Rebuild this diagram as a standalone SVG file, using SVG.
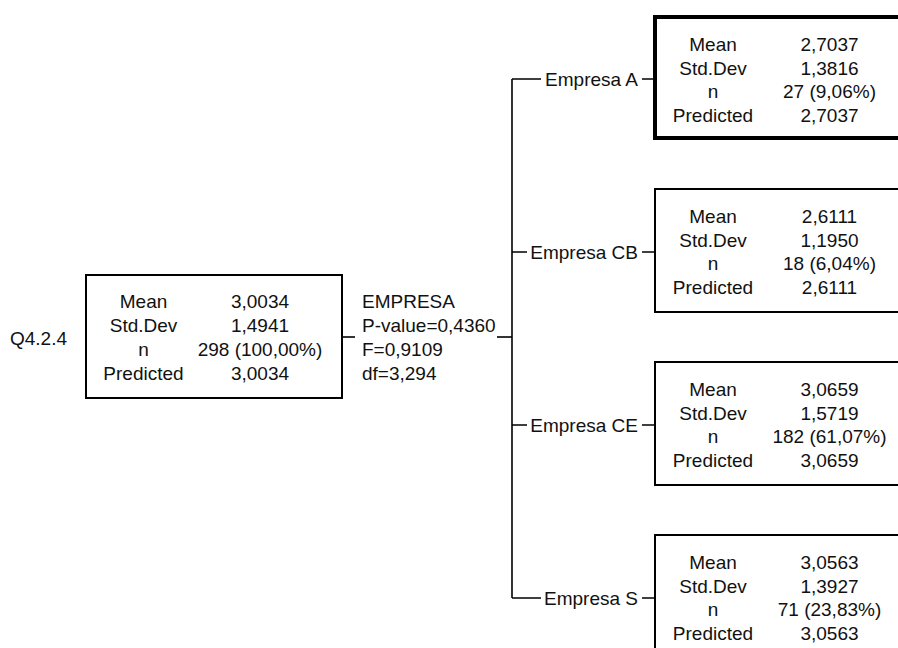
<svg xmlns="http://www.w3.org/2000/svg" width="898" height="648" viewBox="0 0 898 648">
  <style>
    text { font-family: "Liberation Sans", Arial, sans-serif; font-size: 19px; fill: #111; }
    .lbl { text-anchor: middle; }
    .val { text-anchor: middle; }
    .end { text-anchor: end; }
    .box { fill: #fff; stroke: #000; stroke-width: 2; }
    .box-sel { fill: #fff; stroke: #000; stroke-width: 4; }
    .wire { fill: none; stroke: #000; stroke-width: 1.6; }
  </style>
  <rect width="898" height="648" fill="#fff"/>

  <!-- connectors -->
  <g id="connectors">
    <path class="wire" d="M342,337 H355"/>
    <path class="wire" d="M497,337 H512"/>
    <path class="wire" d="M512,79 V598"/>
    <path class="wire" d="M512,79 H541 M642,79 H655"/>
    <path class="wire" d="M512,252 H527 M642,252 H655"/>
    <path class="wire" d="M512,425 H527 M642,425 H655"/>
    <path class="wire" d="M512,598 H541 M642,598 H655"/>
  </g>

  <!-- root node -->
  <g id="node-root">
    <text x="10" y="345">Q4.2.4</text>
    <rect class="box" x="86" y="275" width="256" height="123"/>
    <text class="lbl" x="143.5" y="308">Mean</text>
    <text class="lbl" x="143.5" y="332">Std.Dev</text>
    <text class="lbl" x="143.5" y="356">n</text>
    <text class="lbl" x="143.5" y="380">Predicted</text>
    <text class="val" x="260" y="308">3,0034</text>
    <text class="val" x="260" y="332">1,4941</text>
    <text class="val" x="260" y="356">298 (100,00%)</text>
    <text class="val" x="260" y="380">3,0034</text>
  </g>

  <!-- split statistics -->
  <g id="split-empresa">
    <text x="362" y="308">EMPRESA</text>
    <text x="362" y="332">P-value=0,4360</text>
    <text x="362" y="356">F=0,9109</text>
    <text x="362" y="380">df=3,294</text>
  </g>

  <!-- child: Empresa A -->
  <g id="node-empresa-a">
    <text class="end" x="638" y="86">Empresa A</text>
    <rect class="box-sel" x="655" y="17" width="256" height="121"/>
    <text class="lbl" x="713" y="51">Mean</text>
    <text class="lbl" x="713" y="75">Std.Dev</text>
    <text class="lbl" x="713" y="98">n</text>
    <text class="lbl" x="713" y="122">Predicted</text>
    <text class="val" x="829.5" y="51">2,7037</text>
    <text class="val" x="829.5" y="75">1,3816</text>
    <text class="val" x="829.5" y="98">27 (9,06%)</text>
    <text class="val" x="829.5" y="122">2,7037</text>
  </g>

  <!-- child: Empresa CB -->
  <g id="node-empresa-cb">
    <text class="end" x="638" y="259">Empresa CB</text>
    <rect class="box" x="655" y="189" width="256" height="123"/>
    <text class="lbl" x="713" y="223">Mean</text>
    <text class="lbl" x="713" y="247">Std.Dev</text>
    <text class="lbl" x="713" y="270">n</text>
    <text class="lbl" x="713" y="294">Predicted</text>
    <text class="val" x="829.5" y="223">2,6111</text>
    <text class="val" x="829.5" y="247">1,1950</text>
    <text class="val" x="829.5" y="270">18 (6,04%)</text>
    <text class="val" x="829.5" y="294">2,6111</text>
  </g>

  <!-- child: Empresa CE -->
  <g id="node-empresa-ce">
    <text class="end" x="638" y="432">Empresa CE</text>
    <rect class="box" x="655" y="362" width="256" height="123"/>
    <text class="lbl" x="713" y="396">Mean</text>
    <text class="lbl" x="713" y="420">Std.Dev</text>
    <text class="lbl" x="713" y="443">n</text>
    <text class="lbl" x="713" y="467">Predicted</text>
    <text class="val" x="829.5" y="396">3,0659</text>
    <text class="val" x="829.5" y="420">1,5719</text>
    <text class="val" x="829.5" y="443">182 (61,07%)</text>
    <text class="val" x="829.5" y="467">3,0659</text>
  </g>

  <!-- child: Empresa S -->
  <g id="node-empresa-s">
    <text class="end" x="638" y="605">Empresa S</text>
    <rect class="box" x="655" y="535" width="256" height="123"/>
    <text class="lbl" x="713" y="569">Mean</text>
    <text class="lbl" x="713" y="593">Std.Dev</text>
    <text class="lbl" x="713" y="616">n</text>
    <text class="lbl" x="713" y="640">Predicted</text>
    <text class="val" x="829.5" y="569">3,0563</text>
    <text class="val" x="829.5" y="593">1,3927</text>
    <text class="val" x="829.5" y="616">71 (23,83%)</text>
    <text class="val" x="829.5" y="640">3,0563</text>
  </g>
</svg>
